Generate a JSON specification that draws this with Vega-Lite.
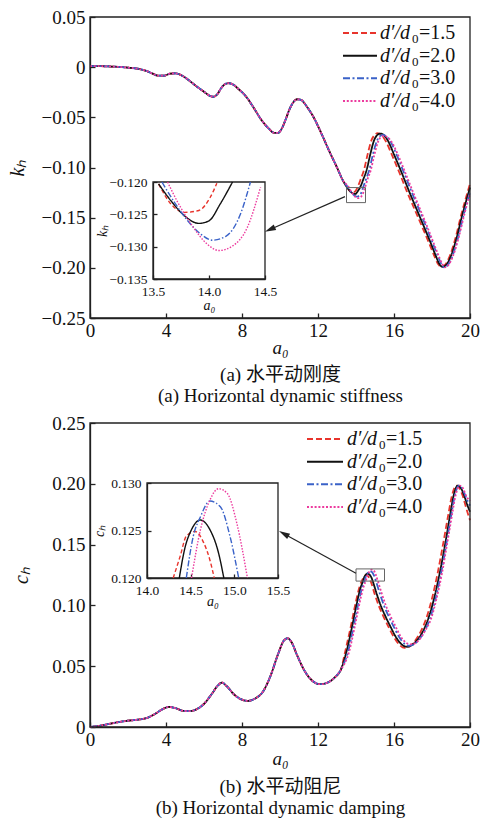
{
  "$schema": "https://vega.github.io/schema/vega-lite/v6.json",
  "width": 480,
  "height": 821,
  "autosize": {"type": "none"},
  "padding": 0,
  "background": "white",
  "config": {
    "view": {"stroke": null},
    "font": "Liberation Serif, Times New Roman, serif",
    "text": {"font": "Liberation Serif, Times New Roman, serif"},
    "axis": {"domainColor": "#222", "domainWidth": 1.3, "tickColor": "#222", "tickWidth": 1.3, "labelColor": "#111", "titleColor": "#111", "labelFont": "Liberation Serif, Times New Roman, serif", "titleFont": "Liberation Serif, Times New Roman, serif", "titleFontWeight": "normal", "grid": false, "labelFlush": false, "labelOverlap": false, "zindex": 1}
  },
  "datasets": {
    "leg": [
      {"s":"d15","lab":"=1.5"},
      {"s":"d20","lab":"=2.0"},
      {"s":"d30","lab":"=3.0"},
      {"s":"d40","lab":"=4.0"}
    ],
    "top": [
      {"a":0,"d15":0.001,"d20":0.001,"d30":0.001,"d40":0.001},
      {"a":0.5,"d15":0.001,"d20":0.001,"d30":0.001,"d40":0.001},
      {"a":1.0,"d15":0.0007,"d20":0.0007,"d30":0.0007,"d40":0.0007},
      {"a":1.5,"d15":0.0003,"d20":0.0003,"d30":0.0003,"d40":0.0003},
      {"a":2.0,"d15":-0.0005,"d20":-0.0005,"d30":-0.0005,"d40":-0.0005},
      {"a":2.5,"d15":-0.0015,"d20":-0.0015,"d30":-0.0015,"d40":-0.0015},
      {"a":3.0,"d15":-0.004,"d20":-0.004,"d30":-0.004,"d40":-0.004},
      {"a":3.3,"d15":-0.0065,"d20":-0.0065,"d30":-0.0065,"d40":-0.0065},
      {"a":3.6,"d15":-0.0085,"d20":-0.0085,"d30":-0.0085,"d40":-0.0085},
      {"a":3.9,"d15":-0.0085,"d20":-0.0085,"d30":-0.0085,"d40":-0.0085},
      {"a":4.2,"d15":-0.0065,"d20":-0.0065,"d30":-0.0065,"d40":-0.0065},
      {"a":4.5,"d15":-0.0062,"d20":-0.0062,"d30":-0.0062,"d40":-0.0062},
      {"a":4.8,"d15":-0.008,"d20":-0.008,"d30":-0.008,"d40":-0.008},
      {"a":5.2,"d15":-0.013,"d20":-0.013,"d30":-0.013,"d40":-0.013},
      {"a":5.6,"d15":-0.019,"d20":-0.019,"d30":-0.019,"d40":-0.019},
      {"a":6.0,"d15":-0.0245,"d20":-0.0245,"d30":-0.0245,"d40":-0.0245},
      {"a":6.3,"d15":-0.0285,"d20":-0.0285,"d30":-0.0285,"d40":-0.0285},
      {"a":6.5,"d15":-0.0295,"d20":-0.0295,"d30":-0.0295,"d40":-0.0295},
      {"a":6.7,"d15":-0.027,"d20":-0.027,"d30":-0.027,"d40":-0.027},
      {"a":6.9,"d15":-0.021,"d20":-0.021,"d30":-0.021,"d40":-0.021},
      {"a":7.1,"d15":-0.017,"d20":-0.017,"d30":-0.017,"d40":-0.017},
      {"a":7.3,"d15":-0.016,"d20":-0.016,"d30":-0.016,"d40":-0.016},
      {"a":7.5,"d15":-0.017,"d20":-0.017,"d30":-0.017,"d40":-0.017},
      {"a":7.8,"d15":-0.0215,"d20":-0.0215,"d30":-0.0215,"d40":-0.0215},
      {"a":8.2,"d15":-0.029,"d20":-0.029,"d30":-0.029,"d40":-0.029},
      {"a":8.6,"d15":-0.04,"d20":-0.04,"d30":-0.04,"d40":-0.04},
      {"a":9.0,"d15":-0.052,"d20":-0.052,"d30":-0.052,"d40":-0.052},
      {"a":9.4,"d15":-0.061,"d20":-0.061,"d30":-0.061,"d40":-0.061},
      {"a":9.7,"d15":-0.0655,"d20":-0.0655,"d30":-0.0655,"d40":-0.0655},
      {"a":9.9,"d15":-0.0655,"d20":-0.0655,"d30":-0.0655,"d40":-0.0655},
      {"a":10.1,"d15":-0.061,"d20":-0.061,"d30":-0.061,"d40":-0.061},
      {"a":10.3,"d15":-0.052,"d20":-0.052,"d30":-0.052,"d40":-0.052},
      {"a":10.5,"d15":-0.042,"d20":-0.042,"d30":-0.042,"d40":-0.042},
      {"a":10.7,"d15":-0.035,"d20":-0.035,"d30":-0.035,"d40":-0.035},
      {"a":10.9,"d15":-0.032,"d20":-0.032,"d30":-0.032,"d40":-0.032},
      {"a":11.1,"d15":-0.0325,"d20":-0.0325,"d30":-0.0325,"d40":-0.0325},
      {"a":11.4,"d15":-0.039,"d20":-0.039,"d30":-0.039,"d40":-0.039},
      {"a":11.8,"d15":-0.051,"d20":-0.051,"d30":-0.051,"d40":-0.051},
      {"a":12.2,"d15":-0.067,"d20":-0.067,"d30":-0.067,"d40":-0.067},
      {"a":12.6,"d15":-0.084,"d20":-0.084,"d30":-0.084,"d40":-0.084},
      {"a":13.0,"d15":-0.1,"d20":-0.1,"d30":-0.1,"d40":-0.1},
      {"a":13.3,"d15":-0.1125,"d20":-0.1125,"d30":-0.1125,"d40":-0.1125},
      {"a":13.55,"d15":-0.1203,"d20":-0.1203},
      {"a":13.66,"d15":-0.1234,"d20":-0.1229},
      {"a":13.78,"d15":-0.1247,"d20":-0.1252},
      {"a":13.91,"d15":-0.1244,"d20":-0.1264},
      {"a":14.01,"d15":-0.1224},
      {"a":14.0,"d20":-0.126},
      {"a":14.07,"d15":-0.1202},
      {"a":14.1,"d20":-0.1234},
      {"a":14.21,"d20":-0.12},
      {"a":14.26,"d15":-0.111},
      {"a":14.4,"d20":-0.111},
      {"a":14.42,"d15":-0.1025},
      {"a":14.56,"d20":-0.1025},
      {"a":14.61,"d15":-0.087},
      {"a":14.75,"d20":-0.087},
      {"a":14.81,"d15":-0.073},
      {"a":14.95,"d20":-0.073},
      {"a":14.96,"d15":-0.068},
      {"a":15.1,"d20":-0.068},
      {"a":15.14,"d15":-0.0658},
      {"a":15.28,"d20":-0.0662},
      {"a":15.31,"d15":-0.0672},
      {"a":15.45,"d20":-0.0675},
      {"a":15.57,"d15":-0.074},
      {"a":15.7,"d20":-0.074},
      {"a":15.88,"d15":-0.087},
      {"a":16.0,"d20":-0.087},
      {"a":16.28,"d15":-0.105},
      {"a":16.4,"d20":-0.105},
      {"a":16.68,"d15":-0.124},
      {"a":16.8,"d20":-0.124},
      {"a":17.09,"d15":-0.142},
      {"a":17.2,"d20":-0.142},
      {"a":17.5,"d15":-0.16},
      {"a":17.6,"d20":-0.16},
      {"a":17.86,"d15":-0.176},
      {"a":17.95,"d20":-0.176},
      {"a":18.12,"d15":-0.188},
      {"a":18.2,"d20":-0.188},
      {"a":18.33,"d15":-0.1965},
      {"a":18.4,"d20":-0.1965},
      {"a":18.48,"d15":-0.199},
      {"a":18.55,"d20":-0.199},
      {"a":18.68,"d15":-0.197},
      {"a":18.75,"d20":-0.197},
      {"a":18.94,"d15":-0.188},
      {"a":19.0,"d20":-0.188},
      {"a":19.24,"d15":-0.17},
      {"a":19.3,"d20":-0.17},
      {"a":19.54,"d15":-0.147},
      {"a":19.6,"d20":-0.147},
      {"a":19.79,"d15":-0.13},
      {"a":19.85,"d20":-0.13},
      {"a":20.0,"d15":-0.116,"d20":-0.12},
      {"a":13.58,"d30":-0.12},
      {"a":13.69,"d30":-0.1231},
      {"a":13.81,"d30":-0.126},
      {"a":13.93,"d30":-0.1281},
      {"a":14.03,"d30":-0.129},
      {"a":14.15,"d30":-0.1284},
      {"a":14.28,"d30":-0.125},
      {"a":14.37,"d30":-0.12},
      {"a":14.54,"d30":-0.111},
      {"a":14.7,"d30":-0.1025},
      {"a":14.89,"d30":-0.087},
      {"a":15.09,"d30":-0.074},
      {"a":15.24,"d30":-0.069},
      {"a":15.42,"d30":-0.0675},
      {"a":15.6,"d30":-0.069},
      {"a":15.84,"d30":-0.075},
      {"a":16.13,"d30":-0.087},
      {"a":16.52,"d30":-0.105},
      {"a":16.92,"d30":-0.124},
      {"a":17.32,"d30":-0.142},
      {"a":17.71,"d30":-0.16},
      {"a":18.05,"d30":-0.176},
      {"a":18.3,"d30":-0.188},
      {"a":18.5,"d30":-0.1965},
      {"a":18.64,"d30":-0.1995},
      {"a":18.84,"d30":-0.197},
      {"a":19.08,"d30":-0.188},
      {"a":19.37,"d30":-0.17},
      {"a":19.67,"d30":-0.147},
      {"a":19.92,"d30":-0.13},
      {"a":20.0,"d30":-0.1245},
      {"a":13.63,"d40":-0.12},
      {"a":13.72,"d40":-0.1231},
      {"a":13.84,"d40":-0.1265},
      {"a":13.99,"d40":-0.1297},
      {"a":14.09,"d40":-0.1306},
      {"a":14.21,"d40":-0.1299},
      {"a":14.34,"d40":-0.1271},
      {"a":14.46,"d40":-0.1208},
      {"a":14.62,"d40":-0.111},
      {"a":14.78,"d40":-0.1025},
      {"a":14.97,"d40":-0.087},
      {"a":15.17,"d40":-0.074},
      {"a":15.32,"d40":-0.0695},
      {"a":15.5,"d40":-0.0685},
      {"a":15.67,"d40":-0.07},
      {"a":15.92,"d40":-0.076},
      {"a":16.2,"d40":-0.087},
      {"a":16.59,"d40":-0.105},
      {"a":16.99,"d40":-0.124},
      {"a":17.38,"d40":-0.142},
      {"a":17.77,"d40":-0.16},
      {"a":18.1,"d40":-0.176},
      {"a":18.35,"d40":-0.188},
      {"a":18.55,"d40":-0.1965},
      {"a":18.68,"d40":-0.1995},
      {"a":18.87,"d40":-0.197},
      {"a":19.11,"d40":-0.188},
      {"a":19.4,"d40":-0.17},
      {"a":19.7,"d40":-0.147},
      {"a":19.94,"d40":-0.13},
      {"a":20.0,"d40":-0.1262}
    ],
    "bot": [
      {"a":0,"d15":0,"d20":0,"d30":0,"d40":0},
      {"a":0.5,"d15":0.001,"d20":0.001,"d30":0.001,"d40":0.001},
      {"a":1.0,"d15":0.0025,"d20":0.0025,"d30":0.0025,"d40":0.0025},
      {"a":1.5,"d15":0.004,"d20":0.004,"d30":0.004,"d40":0.004},
      {"a":2.0,"d15":0.0052,"d20":0.0052,"d30":0.0052,"d40":0.0052},
      {"a":2.5,"d15":0.006,"d20":0.006,"d30":0.006,"d40":0.006},
      {"a":3.0,"d15":0.0075,"d20":0.0075,"d30":0.0075,"d40":0.0075},
      {"a":3.4,"d15":0.0105,"d20":0.0105,"d30":0.0105,"d40":0.0105},
      {"a":3.8,"d15":0.0145,"d20":0.0145,"d30":0.0145,"d40":0.0145},
      {"a":4.15,"d15":0.0165,"d20":0.0165,"d30":0.0165,"d40":0.0165},
      {"a":4.5,"d15":0.0155,"d20":0.0155,"d30":0.0155,"d40":0.0155},
      {"a":4.9,"d15":0.0133,"d20":0.0133,"d30":0.0133,"d40":0.0133},
      {"a":5.2,"d15":0.013,"d20":0.013,"d30":0.013,"d40":0.013},
      {"a":5.6,"d15":0.0145,"d20":0.0145,"d30":0.0145,"d40":0.0145},
      {"a":6.0,"d15":0.019,"d20":0.019,"d30":0.019,"d40":0.019},
      {"a":6.4,"d15":0.027,"d20":0.027,"d30":0.027,"d40":0.027},
      {"a":6.75,"d15":0.0345,"d20":0.0345,"d30":0.0345,"d40":0.0345},
      {"a":6.95,"d15":0.0365,"d20":0.0365,"d30":0.0365,"d40":0.0365},
      {"a":7.2,"d15":0.0335,"d20":0.0335,"d30":0.0335,"d40":0.0335},
      {"a":7.6,"d15":0.0265,"d20":0.0265,"d30":0.0265,"d40":0.0265},
      {"a":8.0,"d15":0.0225,"d20":0.0225,"d30":0.0225,"d40":0.0225},
      {"a":8.3,"d15":0.0215,"d20":0.0215,"d30":0.0215,"d40":0.0215},
      {"a":8.7,"d15":0.0235,"d20":0.0235,"d30":0.0235,"d40":0.0235},
      {"a":9.1,"d15":0.029,"d20":0.029,"d30":0.029,"d40":0.029},
      {"a":9.5,"d15":0.042,"d20":0.042,"d30":0.042,"d40":0.042},
      {"a":9.9,"d15":0.06,"d20":0.06,"d30":0.06,"d40":0.06},
      {"a":10.2,"d15":0.071,"d20":0.071,"d30":0.071,"d40":0.071},
      {"a":10.4,"d15":0.073,"d20":0.073,"d30":0.073,"d40":0.073},
      {"a":10.6,"d15":0.07,"d20":0.07,"d30":0.07,"d40":0.07},
      {"a":10.9,"d15":0.059,"d20":0.059,"d30":0.059,"d40":0.059},
      {"a":11.3,"d15":0.046,"d20":0.046,"d30":0.046,"d40":0.046},
      {"a":11.7,"d15":0.038,"d20":0.038,"d30":0.038,"d40":0.038},
      {"a":12.1,"d15":0.0352,"d20":0.0352,"d30":0.0352,"d40":0.0352},
      {"a":12.5,"d15":0.0365,"d20":0.0365,"d30":0.0365,"d40":0.0365},
      {"a":12.9,"d15":0.041,"d20":0.041,"d30":0.041,"d40":0.041},
      {"a":13.2,"d15":0.047,"d20":0.047,"d30":0.047,"d40":0.047},
      {"a":13.43,"d15":0.062},
      {"a":13.73,"d15":0.083},
      {"a":13.98,"d15":0.102},
      {"a":14.18,"d15":0.115},
      {"a":14.3,"d15":0.12},
      {"a":14.38,"d15":0.1223},
      {"a":14.45,"d15":0.1244},
      {"a":14.55,"d15":0.1249},
      {"a":14.65,"d15":0.1237},
      {"a":14.72,"d15":0.1219},
      {"a":14.77,"d15":0.12},
      {"a":14.99,"d15":0.109},
      {"a":15.19,"d15":0.1},
      {"a":15.44,"d15":0.091},
      {"a":15.69,"d15":0.083},
      {"a":15.99,"d15":0.074},
      {"a":16.29,"d15":0.0675},
      {"a":16.56,"d15":0.065},
      {"a":16.84,"d15":0.0665},
      {"a":17.09,"d15":0.0705},
      {"a":17.39,"d15":0.078},
      {"a":17.69,"d15":0.089},
      {"a":17.99,"d15":0.105},
      {"a":18.29,"d15":0.126},
      {"a":18.59,"d15":0.151},
      {"a":18.85,"d15":0.174},
      {"a":19.06,"d15":0.191},
      {"a":19.27,"d15":0.1985},
      {"a":19.42,"d15":0.197},
      {"a":19.62,"d15":0.19},
      {"a":19.8,"d15":0.18},
      {"a":20.0,"d15":0.17},
      {"a":13.5,"d20":0.062},
      {"a":13.8,"d20":0.083},
      {"a":14.05,"d20":0.102},
      {"a":14.25,"d20":0.115},
      {"a":14.37,"d20":0.12},
      {"a":14.43,"d20":0.123},
      {"a":14.51,"d20":0.1251},
      {"a":14.61,"d20":0.1261},
      {"a":14.72,"d20":0.1251},
      {"a":14.82,"d20":0.1226},
      {"a":14.88,"d20":0.12},
      {"a":15.1,"d20":0.109},
      {"a":15.3,"d20":0.1},
      {"a":15.55,"d20":0.091},
      {"a":15.8,"d20":0.083},
      {"a":16.1,"d20":0.074},
      {"a":16.4,"d20":0.068},
      {"a":16.67,"d20":0.066},
      {"a":16.95,"d20":0.0675},
      {"a":17.2,"d20":0.071},
      {"a":17.5,"d20":0.078},
      {"a":17.8,"d20":0.089},
      {"a":18.1,"d20":0.105},
      {"a":18.4,"d20":0.126},
      {"a":18.7,"d20":0.151},
      {"a":18.95,"d20":0.174},
      {"a":19.15,"d20":0.191},
      {"a":19.35,"d20":0.1985},
      {"a":19.5,"d20":0.197},
      {"a":19.7,"d20":0.19},
      {"a":19.85,"d20":0.183},
      {"a":20.0,"d20":0.177},
      {"a":13.58,"d30":0.062},
      {"a":13.88,"d30":0.083},
      {"a":14.13,"d30":0.102},
      {"a":14.33,"d30":0.115},
      {"a":14.45,"d30":0.12},
      {"a":14.53,"d30":0.1244},
      {"a":14.61,"d30":0.1264},
      {"a":14.72,"d30":0.1281},
      {"a":14.84,"d30":0.1275},
      {"a":14.95,"d30":0.1244},
      {"a":15.05,"d30":0.12},
      {"a":15.27,"d30":0.109},
      {"a":15.47,"d30":0.1},
      {"a":15.72,"d30":0.091},
      {"a":15.97,"d30":0.083},
      {"a":16.27,"d30":0.074},
      {"a":16.55,"d30":0.0685},
      {"a":16.78,"d30":0.0668},
      {"a":17.05,"d30":0.068},
      {"a":17.3,"d30":0.0715},
      {"a":17.6,"d30":0.0785},
      {"a":17.89,"d30":0.089},
      {"a":18.18,"d30":0.105},
      {"a":18.47,"d30":0.126},
      {"a":18.76,"d30":0.151},
      {"a":19.01,"d30":0.174},
      {"a":19.21,"d30":0.191},
      {"a":19.41,"d30":0.1985},
      {"a":19.56,"d30":0.197},
      {"a":19.76,"d30":0.19},
      {"a":19.9,"d30":0.185},
      {"a":20.0,"d30":0.182},
      {"a":13.64,"d40":0.062},
      {"a":13.94,"d40":0.083},
      {"a":14.19,"d40":0.102},
      {"a":14.39,"d40":0.115},
      {"a":14.51,"d40":0.12},
      {"a":14.61,"d40":0.125},
      {"a":14.72,"d40":0.1282},
      {"a":14.82,"d40":0.1294},
      {"a":14.92,"d40":0.1289},
      {"a":15.03,"d40":0.1257},
      {"a":15.15,"d40":0.12},
      {"a":15.37,"d40":0.109},
      {"a":15.57,"d40":0.1},
      {"a":15.82,"d40":0.091},
      {"a":16.07,"d40":0.083},
      {"a":16.37,"d40":0.074},
      {"a":16.62,"d40":0.0695},
      {"a":16.85,"d40":0.068},
      {"a":17.12,"d40":0.069},
      {"a":17.36,"d40":0.0725},
      {"a":17.65,"d40":0.0795},
      {"a":17.95,"d40":0.089},
      {"a":18.23,"d40":0.105},
      {"a":18.52,"d40":0.126},
      {"a":18.8,"d40":0.151},
      {"a":19.05,"d40":0.174},
      {"a":19.25,"d40":0.191},
      {"a":19.46,"d40":0.1985},
      {"a":19.61,"d40":0.197},
      {"a":19.8,"d40":0.19},
      {"a":20.0,"d40":0.186}
    ]
  },
  "resolve": {"scale": {"x": "independent", "y": "independent", "color": "independent", "strokeDash": "independent"}},
  "layer": [
    {
      "data": {"name": "top"},
      "transform": [{"fold": ["d15","d20","d30","d40"], "as": ["s","v"]}, {"filter": "isValid(datum.v)"}],
      "mark": {"type": "line", "strokeWidth": 1.8, "interpolate": "monotone"},
      "encoding": {
        "x": {"field": "a", "type": "quantitative", "scale": {"domain": [0,20], "range": [90,470], "nice": false, "zero": false},
              "axis": {"orient": "bottom", "offset": -503, "values": [0,4,8,12,16,20], "tickSize": -5, "labelPadding": 8, "labelFontSize": 19, "title": "a₀", "titleFontStyle": "italic", "titleFontSize": 19, "titleY": 35, "titleBaseline": "alphabetic"}},
        "y": {"field": "v", "type": "quantitative", "scale": {"domain": [-0.25,0.05], "range": [318,17], "nice": false, "zero": false},
              "axis": {"orient": "left", "offset": -90, "values": [-0.25,-0.2,-0.15,-0.1,-0.05,0,0.05], "labelExpr": "datum.value == 0 ? '0' : format(datum.value, '.2f')", "tickSize": -5, "labelPadding": 10, "labelFontSize": 19, "title": "kₕ", "titleFontStyle": "italic", "titleFontSize": 20, "titleX": -73, "titleBaseline": "middle", "titleAngle": -90}},
        "color": {"field": "s", "type": "nominal", "scale": {"domain": ["d15","d20","d30","d40"], "range": ["#e8342c","#111111","#3a62c8","#ec3b9e"]}, "legend": null},
        "strokeDash": {"field": "s", "type": "nominal", "scale": {"domain": ["d15","d20","d30","d40"], "range": [[6,3],[1,0],[7,2.5,2,2.5],[2,1.8]]}, "legend": null}
      }
    },
    {
      "data": {"name": "leg"},
      "mark": {"type": "rule", "strokeWidth": 2},
      "encoding": {
        "x": {"datum": 0, "type": "quantitative", "scale": {"domain": [0,1], "range": [343,377]}, "axis": null},
        "x2": {"datum": 1},
        "y": {"field": "s", "type": "nominal", "scale": {"type": "point", "domain": ["d15","d20","d30","d40"], "range": [33,101], "padding": 0}, "axis": null},
        "color": {"field": "s", "type": "nominal", "scale": {"domain": ["d15","d20","d30","d40"], "range": ["#e8342c","#111111","#3a62c8","#ec3b9e"]}, "legend": null},
        "strokeDash": {"field": "s", "type": "nominal", "scale": {"domain": ["d15","d20","d30","d40"], "range": [[6,3],[1,0],[7,2.5,2,2.5],[2,1.8]]}, "legend": null}
      }
    },
    {
      "data": {"name": "leg"},
      "mark": {"type": "text", "text": "d′/d", "fontStyle": "italic", "fontSize": 20, "align": "left", "baseline": "alphabetic", "dy": 6, "color": "#111"},
      "encoding": {
        "x": {"datum": 0, "type": "quantitative", "scale": {"domain": [0,1], "range": [380,381]}, "axis": null},
        "y": {"field": "s", "type": "nominal", "scale": {"type": "point", "domain": ["d15","d20","d30","d40"], "range": [33,101], "padding": 0}, "axis": null}
      }
    },
    {
      "data": {"name": "leg"},
      "mark": {"type": "text", "text": "0", "fontSize": 13, "align": "left", "baseline": "alphabetic", "dy": 10, "color": "#111"},
      "encoding": {
        "x": {"datum": 0, "type": "quantitative", "scale": {"domain": [0,1], "range": [412,413]}, "axis": null},
        "y": {"field": "s", "type": "nominal", "scale": {"type": "point", "domain": ["d15","d20","d30","d40"], "range": [33,101], "padding": 0}, "axis": null}
      }
    },
    {
      "data": {"name": "leg"},
      "mark": {"type": "text", "fontSize": 20, "align": "left", "baseline": "alphabetic", "dy": 6, "color": "#111"},
      "encoding": {
        "text": {"field": "lab"},
        "x": {"datum": 0, "type": "quantitative", "scale": {"domain": [0,1], "range": [419,420]}, "axis": null},
        "y": {"field": "s", "type": "nominal", "scale": {"type": "point", "domain": ["d15","d20","d30","d40"], "range": [33,101], "padding": 0}, "axis": null}
      }
    },
    {
      "data": {"values": [{}]},
      "mark": {"type": "rect", "fill": null, "stroke": "#222", "strokeWidth": 1.3},
      "encoding": {
        "x": {"datum": 0, "type": "quantitative", "scale": {"domain": [0,20], "range": [90,470], "nice": false, "zero": false},
              "axis": {"orient": "bottom", "offset": -503, "domain": false, "ticks": false, "labels": false, "title": ["(a) 水平动刚度", "(a) Horizontal dynamic stiffness"], "titleFont": "Liberation Serif, Noto Sans CJK SC", "titleFontSize": 19, "titleY": 62, "titleBaseline": "alphabetic", "titleLineHeight": 21}},
        "x2": {"datum": 20},
        "y": {"datum": -0.25, "type": "quantitative", "scale": {"domain": [-0.25,0.05], "range": [318,17], "nice": false, "zero": false}, "axis": null},
        "y2": {"datum": 0.05}
      }
    },
    {
      "data": {"values": [{}]},
      "mark": {"type": "rect", "fill": null, "stroke": "#666", "strokeWidth": 1},
      "encoding": {
        "x": {"datum": 13.5, "type": "quantitative", "scale": {"domain": [0,20], "range": [90,470], "nice": false, "zero": false}, "axis": null},
        "x2": {"datum": 14.5},
        "y": {"datum": -0.135, "type": "quantitative", "scale": {"domain": [-0.25,0.05], "range": [318,17], "nice": false, "zero": false}, "axis": null},
        "y2": {"datum": -0.12}
      }
    },
    {
      "data": {"values": [{}]},
      "mark": {"type": "rule", "stroke": "#222", "strokeWidth": 1.2},
      "encoding": {
        "x": {"datum": 13.42, "type": "quantitative", "scale": {"domain": [0,20], "range": [90,470], "nice": false, "zero": false}, "axis": null},
        "x2": {"datum": 9.47},
        "y": {"datum": -0.129, "type": "quantitative", "scale": {"domain": [-0.25,0.05], "range": [318,17], "nice": false, "zero": false}, "axis": null},
        "y2": {"datum": -0.1618}
      }
    },
    {
      "data": {"values": [{}]},
      "mark": {"type": "point", "shape": "M0,-1L0.55,1L-0.55,1Z", "filled": true, "color": "#222", "opacity": 1, "size": 121, "angle": 246},
      "encoding": {
        "x": {"datum": 9.47, "type": "quantitative", "scale": {"domain": [0,20], "range": [90,470], "nice": false, "zero": false}, "axis": null},
        "y": {"datum": -0.1618, "type": "quantitative", "scale": {"domain": [-0.25,0.05], "range": [318,17], "nice": false, "zero": false}, "axis": null}
      }
    },
    {
      "data": {"values": [{}]},
      "mark": {"type": "rect", "fill": null, "stroke": "#222", "strokeWidth": 1.3},
      "encoding": {
        "x": {"datum": 13.5, "type": "quantitative", "scale": {"domain": [13.5,14.5], "range": [153,265], "nice": false, "zero": false}, "axis": null},
        "x2": {"datum": 14.5},
        "y": {"datum": -0.135, "type": "quantitative", "scale": {"domain": [-0.135,-0.12], "range": [279,182], "nice": false, "zero": false}, "axis": null},
        "y2": {"datum": -0.12}
      }
    },
    {
      "data": {"name": "top"},
      "transform": [{"fold": ["d15","d20","d30","d40"], "as": ["s","v"]}, {"filter": "isValid(datum.v) && datum.a >= 13.5 && datum.a <= 14.5 && datum.v <= -0.1199"}],
      "mark": {"type": "line", "strokeWidth": 1.4, "interpolate": "monotone"},
      "encoding": {
        "x": {"field": "a", "type": "quantitative", "scale": {"domain": [13.5,14.5], "range": [153,265], "nice": false, "zero": false},
              "axis": {"orient": "bottom", "offset": -542, "values": [13.5,14,14.5], "format": ".1f", "tickSize": -4, "labelPadding": 9, "labelFontSize": 13.5, "title": "a₀", "titleFontStyle": "italic", "titleFontSize": 14, "titleY": 30, "titleBaseline": "alphabetic"}},
        "y": {"field": "v", "type": "quantitative", "scale": {"domain": [-0.135,-0.12], "range": [279,182], "nice": false, "zero": false},
              "axis": {"orient": "left", "offset": -153, "values": [-0.135,-0.13,-0.125,-0.12], "format": ".3f", "tickSize": -4, "labelPadding": 10, "labelFontSize": 13.5, "title": "kₕ", "titleFontStyle": "italic", "titleFontSize": 14, "titleX": -51, "titleBaseline": "middle", "titleAngle": -90}},
        "color": {"field": "s", "type": "nominal", "scale": {"domain": ["d15","d20","d30","d40"], "range": ["#e8342c","#111111","#3a62c8","#ec3b9e"]}, "legend": null},
        "strokeDash": {"field": "s", "type": "nominal", "scale": {"domain": ["d15","d20","d30","d40"], "range": [[4,2.5],[1,0],[6,2,1.5,2],[1.5,1.5]]}, "legend": null}
      }
    },
    {
      "data": {"name": "bot"},
      "transform": [{"fold": ["d15","d20","d30","d40"], "as": ["s","v"]}, {"filter": "isValid(datum.v)"}],
      "mark": {"type": "line", "strokeWidth": 1.8, "interpolate": "monotone"},
      "encoding": {
        "x": {"field": "a", "type": "quantitative", "scale": {"domain": [0,20], "range": [90,470], "nice": false, "zero": false},
              "axis": {"orient": "bottom", "offset": -94, "values": [0,4,8,12,16,20], "tickSize": -5, "labelPadding": 8, "labelFontSize": 19, "title": "a₀", "titleFontStyle": "italic", "titleFontSize": 19, "titleY": 37, "titleBaseline": "alphabetic"}},
        "y": {"field": "v", "type": "quantitative", "scale": {"domain": [0,0.25], "range": [727,423], "nice": false, "zero": false},
              "axis": {"orient": "left", "offset": -90, "values": [0,0.05,0.1,0.15,0.2,0.25], "labelExpr": "datum.value == 0 ? '0' : format(datum.value, '.2f')", "tickSize": -5, "labelPadding": 10, "labelFontSize": 19, "title": "cₕ", "titleFontStyle": "italic", "titleFontSize": 20, "titleX": -69, "titleBaseline": "middle", "titleAngle": -90}},
        "color": {"field": "s", "type": "nominal", "scale": {"domain": ["d15","d20","d30","d40"], "range": ["#e8342c","#111111","#3a62c8","#ec3b9e"]}, "legend": null},
        "strokeDash": {"field": "s", "type": "nominal", "scale": {"domain": ["d15","d20","d30","d40"], "range": [[6,3],[1,0],[7,2.5,2,2.5],[2,1.8]]}, "legend": null}
      }
    },
    {
      "data": {"name": "leg"},
      "mark": {"type": "rule", "strokeWidth": 2},
      "encoding": {
        "x": {"datum": 0, "type": "quantitative", "scale": {"domain": [0,1], "range": [307,343]}, "axis": null},
        "x2": {"datum": 1},
        "y": {"field": "s", "type": "nominal", "scale": {"type": "point", "domain": ["d15","d20","d30","d40"], "range": [439,507], "padding": 0}, "axis": null},
        "color": {"field": "s", "type": "nominal", "scale": {"domain": ["d15","d20","d30","d40"], "range": ["#e8342c","#111111","#3a62c8","#ec3b9e"]}, "legend": null},
        "strokeDash": {"field": "s", "type": "nominal", "scale": {"domain": ["d15","d20","d30","d40"], "range": [[6,3],[1,0],[7,2.5,2,2.5],[2,1.8]]}, "legend": null}
      }
    },
    {
      "data": {"name": "leg"},
      "mark": {"type": "text", "text": "d′/d", "fontStyle": "italic", "fontSize": 20, "align": "left", "baseline": "alphabetic", "dy": 6, "color": "#111"},
      "encoding": {
        "x": {"datum": 0, "type": "quantitative", "scale": {"domain": [0,1], "range": [347,348]}, "axis": null},
        "y": {"field": "s", "type": "nominal", "scale": {"type": "point", "domain": ["d15","d20","d30","d40"], "range": [439,507], "padding": 0}, "axis": null}
      }
    },
    {
      "data": {"name": "leg"},
      "mark": {"type": "text", "text": "0", "fontSize": 13, "align": "left", "baseline": "alphabetic", "dy": 10, "color": "#111"},
      "encoding": {
        "x": {"datum": 0, "type": "quantitative", "scale": {"domain": [0,1], "range": [379,380]}, "axis": null},
        "y": {"field": "s", "type": "nominal", "scale": {"type": "point", "domain": ["d15","d20","d30","d40"], "range": [439,507], "padding": 0}, "axis": null}
      }
    },
    {
      "data": {"name": "leg"},
      "mark": {"type": "text", "fontSize": 20, "align": "left", "baseline": "alphabetic", "dy": 6, "color": "#111"},
      "encoding": {
        "text": {"field": "lab"},
        "x": {"datum": 0, "type": "quantitative", "scale": {"domain": [0,1], "range": [386,387]}, "axis": null},
        "y": {"field": "s", "type": "nominal", "scale": {"type": "point", "domain": ["d15","d20","d30","d40"], "range": [439,507], "padding": 0}, "axis": null}
      }
    },
    {
      "data": {"values": [{}]},
      "mark": {"type": "rect", "fill": null, "stroke": "#222", "strokeWidth": 1.3},
      "encoding": {
        "x": {"datum": 0, "type": "quantitative", "scale": {"domain": [0,20], "range": [90,470], "nice": false, "zero": false},
              "axis": {"orient": "bottom", "offset": -94, "domain": false, "ticks": false, "labels": false, "title": ["(b) 水平动阻尼", "(b) Horizontal dynamic damping"], "titleFont": "Liberation Serif, Noto Sans CJK SC", "titleFontSize": 19, "titleY": 65, "titleBaseline": "alphabetic", "titleLineHeight": 21}},
        "x2": {"datum": 20},
        "y": {"datum": 0, "type": "quantitative", "scale": {"domain": [0,0.25], "range": [727,423], "nice": false, "zero": false}, "axis": null},
        "y2": {"datum": 0.25}
      }
    },
    {
      "data": {"values": [{}]},
      "mark": {"type": "rect", "fill": null, "stroke": "#666", "strokeWidth": 1},
      "encoding": {
        "x": {"datum": 14, "type": "quantitative", "scale": {"domain": [0,20], "range": [90,470], "nice": false, "zero": false}, "axis": null},
        "x2": {"datum": 15.5},
        "y": {"datum": 0.12, "type": "quantitative", "scale": {"domain": [0,0.25], "range": [727,423], "nice": false, "zero": false}, "axis": null},
        "y2": {"datum": 0.13}
      }
    },
    {
      "data": {"values": [{}]},
      "mark": {"type": "rule", "stroke": "#222", "strokeWidth": 1.2},
      "encoding": {
        "x": {"datum": 14.0, "type": "quantitative", "scale": {"domain": [0,20], "range": [90,470], "nice": false, "zero": false}, "axis": null},
        "x2": {"datum": 10.2},
        "y": {"datum": 0.1264, "type": "quantitative", "scale": {"domain": [0,0.25], "range": [727,423], "nice": false, "zero": false}, "axis": null},
        "y2": {"datum": 0.159}
      }
    },
    {
      "data": {"values": [{}]},
      "mark": {"type": "point", "shape": "M0,-1L0.55,1L-0.55,1Z", "filled": true, "color": "#222", "opacity": 1, "size": 121, "angle": 299},
      "encoding": {
        "x": {"datum": 10.2, "type": "quantitative", "scale": {"domain": [0,20], "range": [90,470], "nice": false, "zero": false}, "axis": null},
        "y": {"datum": 0.159, "type": "quantitative", "scale": {"domain": [0,0.25], "range": [727,423], "nice": false, "zero": false}, "axis": null}
      }
    },
    {
      "data": {"values": [{}]},
      "mark": {"type": "rect", "fill": null, "stroke": "#222", "strokeWidth": 1.3},
      "encoding": {
        "x": {"datum": 14, "type": "quantitative", "scale": {"domain": [14,15.5], "range": [147,278], "nice": false, "zero": false}, "axis": null},
        "x2": {"datum": 15.5},
        "y": {"datum": 0.12, "type": "quantitative", "scale": {"domain": [0.12,0.13], "range": [578,483], "nice": false, "zero": false}, "axis": null},
        "y2": {"datum": 0.13}
      }
    },
    {
      "data": {"name": "bot"},
      "transform": [{"fold": ["d15","d20","d30","d40"], "as": ["s","v"]}, {"filter": "isValid(datum.v) && datum.a >= 14 && datum.a <= 15.5 && datum.v >= 0.1199"}],
      "mark": {"type": "line", "strokeWidth": 1.4, "interpolate": "monotone"},
      "encoding": {
        "x": {"field": "a", "type": "quantitative", "scale": {"domain": [14,15.5], "range": [147,278], "nice": false, "zero": false},
              "axis": {"orient": "bottom", "offset": -243, "values": [14,14.5,15,15.5], "format": ".1f", "tickSize": -4, "labelPadding": 9, "labelFontSize": 13.5, "title": "a₀", "titleFontStyle": "italic", "titleFontSize": 14, "titleY": 27, "titleBaseline": "alphabetic"}},
        "y": {"field": "v", "type": "quantitative", "scale": {"domain": [0.12,0.13], "range": [578,483], "nice": false, "zero": false},
              "axis": {"orient": "left", "offset": -147, "values": [0.12,0.125,0.13], "format": ".3f", "tickSize": -4, "labelPadding": 10, "labelFontSize": 13.5, "title": "cₕ", "titleFontStyle": "italic", "titleFontSize": 14, "titleX": -48, "titleBaseline": "middle", "titleAngle": -90}},
        "color": {"field": "s", "type": "nominal", "scale": {"domain": ["d15","d20","d30","d40"], "range": ["#e8342c","#111111","#3a62c8","#ec3b9e"]}, "legend": null},
        "strokeDash": {"field": "s", "type": "nominal", "scale": {"domain": ["d15","d20","d30","d40"], "range": [[4,2.5],[1,0],[6,2,1.5,2],[1.5,1.5]]}, "legend": null}
      }
    }
  ]
}
